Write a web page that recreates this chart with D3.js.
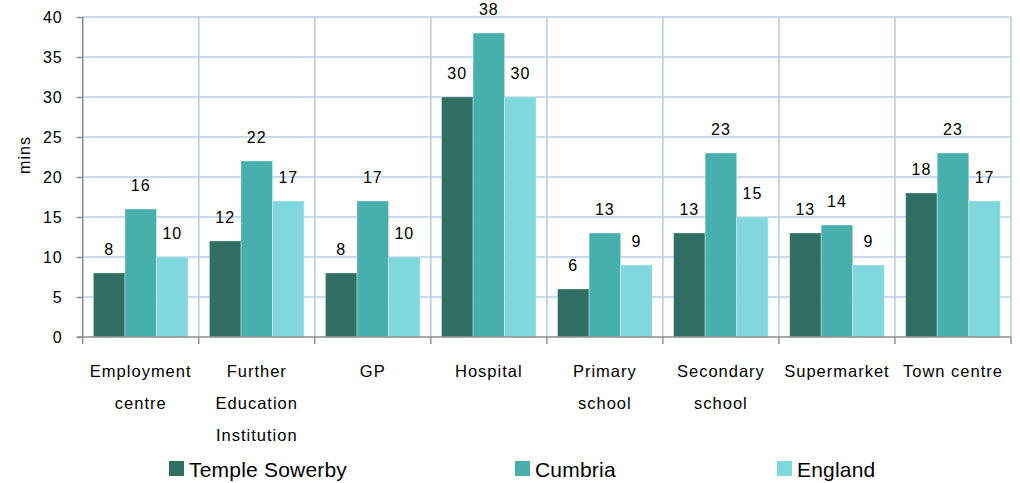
<!DOCTYPE html>
<html><head><meta charset="utf-8">
<script src="https://cdn.jsdelivr.net/npm/d3@7"></script>
<style>
body{margin:0;background:#fff;}
svg text{font-family:"Liberation Sans",Arial,sans-serif;fill:#000;}
</style></head>
<body><svg id="c" width="1020" height="483"></svg>
<script>
const categories = [["Employment","centre"],["Further","Education","Institution"],["GP"],["Hospital"],["Primary","school"],["Secondary","school"],["Supermarket"],["Town centre"]];
const seriesNames = ["Temple Sowerby","Cumbria","England"];
const templeSowerby = [8,12,8,30,6,13,13,18];
const cumbria = [16,22,17,38,13,23,14,23];
const england = [10,17,10,30,9,15,9,17];
const colors = ["#316e63","#48b0ac","#80d8de"];
const yTicks = [0,5,10,15,20,25,30,35,40];

const series = [templeSowerby, cumbria, england];
const svg = d3.select("#c");
const pL = 82.7, pR = 1011, pT = 17, pB = 337;
const x0 = d3.scaleBand().domain(d3.range(categories.length)).range([pL,pR]).padding(0);
const bw = x0.bandwidth();
const x1 = d3.scaleBand().domain(d3.range(series.length)).range([bw*0.092, bw*0.908]).padding(0);
const y = d3.scaleLinear().domain([0,40]).range([pB,pT]);
const grid = "#b9cde5";

// horizontal grid
svg.append("g").selectAll("line").data(yTicks.filter(d=>d>0)).join("line")
  .attr("x1",pL).attr("x2",pR).attr("y1",d=>y(d)).attr("y2",d=>y(d))
  .attr("stroke",grid).attr("stroke-width",1.6);
// vertical grid
svg.append("g").selectAll("line").data(d3.range(1,categories.length+1)).join("line")
  .attr("x1",i=>pL+i*bw).attr("x2",i=>pL+i*bw).attr("y1",pT).attr("y2",pB)
  .attr("stroke",grid).attr("stroke-width",1.6);

// bars
const g = svg.append("g");
categories.forEach((c,ci)=>{
  series.forEach((s,si)=>{
    const v = s[ci];
    const bx = x0(ci)+x1(si);
    g.append("rect").attr("x",bx).attr("y",y(v)).attr("width",x1.bandwidth()).attr("height",y(0)-y(v))
      .attr("fill",colors[si]).attr("stroke","rgba(255,255,255,0.35)").attr("stroke-width",1);
    g.append("text").attr("x",bx+x1.bandwidth()/2).attr("y",y(v)-18)
      .attr("text-anchor","middle").attr("font-size",16).attr("letter-spacing","1px").text(v);
  });
});

// y axis
const ya = svg.append("g").attr("transform",`translate(${pL},0)`)
  .call(d3.axisLeft(y).tickValues(yTicks).tickSize(6).tickPadding(14));
ya.select(".domain").attr("stroke","#8c8c8c").attr("stroke-width",1.6).attr("d",`M0,${pT}V${pB}`);
ya.selectAll(".tick line").attr("stroke","#8c8c8c").attr("stroke-width",1.4);
ya.selectAll(".tick text").attr("font-size",16).attr("letter-spacing","1px").attr("font-family","Liberation Sans, Arial, sans-serif").attr("fill","#000");

// x axis
svg.append("line").attr("x1",pL-6).attr("x2",pR).attr("y1",pB).attr("y2",pB)
  .attr("stroke","#8c8c8c").attr("stroke-width",1.6);
svg.append("g").selectAll("line").data(d3.range(0,categories.length+1)).join("line")
  .attr("x1",i=>pL+i*bw).attr("x2",i=>pL+i*bw).attr("y1",pB).attr("y2",pB+7)
  .attr("stroke","#8c8c8c").attr("stroke-width",1.4);
categories.forEach((lines,ci)=>{
  const t = svg.append("text").attr("x",x0(ci)+bw/2).attr("y",377).attr("text-anchor","middle")
    .attr("font-size",16.5).attr("letter-spacing","1px");
  lines.forEach((l,li)=>t.append("tspan").attr("x",x0(ci)+bw/2).attr("y",377+li*32).text(l));
});

// y title
svg.append("text").attr("transform","translate(30,155) rotate(-90)").attr("text-anchor","middle")
  .attr("font-size",16).attr("letter-spacing","1px").text("mins");

// legend
const legX = [169,515,777];
seriesNames.forEach((n,i)=>{
  svg.append("rect").attr("x",legX[i]).attr("y",461).attr("width",15).attr("height",15).attr("fill",colors[i]);
  svg.append("text").attr("x",legX[i]+20).attr("y",477).attr("font-size",21).attr("letter-spacing","0.2px").text(n);
});
</script></body></html>
